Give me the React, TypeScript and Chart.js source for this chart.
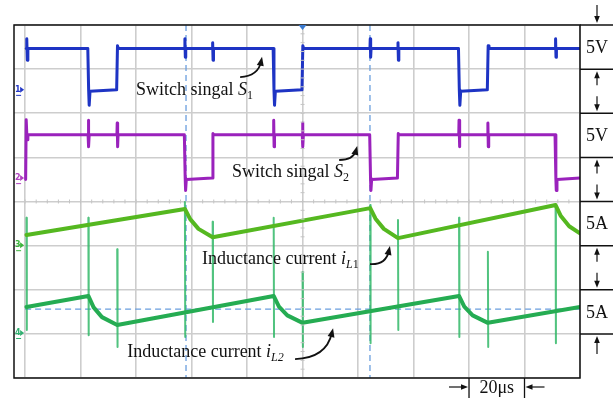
import React, { useEffect, useRef } from "react";
import { Chart, registerables } from "chart.js";
Chart.register(...registerables);

// time axis in μs (20 μs / division), vertical axis in divisions from the top
const xTicks = [0, 20, 40, 60, 80, 100, 120, 140, 160, 180, 200];
const yTicks = [0, 1, 2, 3, 4, 5, 6, 7, 8];

// Switch signal S1 (blue)
const s1T = [0.4, 0.6, 0.8, 1.0, 22.6, 22.9, 23.1, 23.4, 33.0, 33.3, 33.6, 57.5, 57.6, 57.75, 57.9, 67.5, 67.6, 67.75, 67.9, 89.4, 89.7, 89.9, 90.2, 99.8, 100.1, 100.4, 124.3, 124.4, 124.55, 124.7, 134.3, 134.4, 134.55, 134.7, 156.2, 156.5, 156.7, 157.0, 166.6, 166.9, 167.2, 191.1, 191.2, 191.35, 191.5, 200];
const s1Y = [0.53, 0.31, 0.80, 0.53, 0.53, 1.47, 1.82, 1.50, 1.47, 0.47, 0.53, 0.53, 0.31, 0.73, 0.53, 0.53, 0.40, 0.80, 0.53, 0.53, 1.47, 1.82, 1.50, 1.47, 0.47, 0.53, 0.53, 0.31, 0.73, 0.53, 0.53, 0.40, 0.80, 0.53, 0.53, 1.47, 1.82, 1.50, 1.47, 0.47, 0.53, 0.53, 0.31, 0.73, 0.53, 0.53];

// Switch signal S2 (purple)
const s2T = [0.2, 0.4, 0.7, 1.0, 22.7, 22.8, 22.95, 23.1, 33.1, 33.2, 33.35, 33.5, 57.4, 57.7, 57.85, 58.1, 67.4, 67.7, 68.0, 89.5, 89.6, 89.75, 89.9, 99.9, 100.0, 100.15, 100.3, 124.2, 124.5, 124.65, 124.9, 134.2, 134.5, 134.8, 156.3, 156.4, 156.55, 156.7, 166.7, 166.8, 166.95, 167.1, 191.0, 191.3, 191.45, 191.7, 200];
const s2Y = [3.50, 2.15, 2.60, 2.49, 2.49, 2.16, 2.76, 2.49, 2.49, 2.22, 2.76, 2.49, 2.49, 3.47, 3.75, 3.50, 3.47, 2.46, 2.49, 2.49, 2.16, 2.76, 2.49, 2.49, 2.22, 2.76, 2.49, 2.49, 3.47, 3.75, 3.50, 3.47, 2.46, 2.49, 2.49, 2.16, 2.76, 2.49, 2.49, 2.22, 2.76, 2.49, 2.49, 3.47, 3.75, 3.50, 3.47];

// Inductance current iL1 (bright green)
const iL1T = [0.5, 57.6, 59.5, 62.5, 67.6, 124.4, 126.3, 129.3, 134.4, 191.2, 193.1, 196.1, 200];
const iL1Y = [4.76, 4.17, 4.40, 4.62, 4.81, 4.15, 4.39, 4.62, 4.83, 4.08, 4.33, 4.56, 4.72];

// Inductance current iL2 (green)
const iL2T = [0.5, 22.8, 24.7, 27.7, 33.2, 89.6, 91.5, 94.5, 100.0, 156.4, 158.3, 161.3, 166.8, 200];
const iL2Y = [6.39, 6.14, 6.40, 6.62, 6.80, 6.14, 6.38, 6.58, 6.75, 6.14, 6.38, 6.58, 6.75, 6.39];

// switching spikes on the current channel
const spikeT = [0.5, 22.8, 33.2, 57.6, 67.6, 89.6, 100.0, 124.4, 134.4, 156.4, 166.8, 191.2];
const spikeTop = [4.37, 4.37, 5.08, 4.01, 4.46, 4.37, 5.60, 4.08, 4.42, 4.37, 5.14, 4.08];
const spikeBottom = [6.91, 7.03, 7.30, 7.07, 6.73, 7.07, 7.30, 7.21, 6.91, 7.07, 7.30, 7.21];

// cursors
const cursorT = [58.0, 124.3];
const cursorLevel = 6.44;

// channel ground markers
const chanLabels = ["1", "2", "3", "4"];
const chanLevels = [1.47, 3.47, 4.99, 6.98];
const chanColors = ["#2438c8", "#b040c0", "#3cb43c", "#30b070"];
const triggerT = 100;

// right side scale boxes
const sideLabels = ["5V", "5V", "5A", "5A"];
const sideLevels = [0.5, 2.5, 4.5, 6.5];
const sideLines = [0, 1, 2, 3, 4, 5, 6, 7];
const timeScaleLabel = "20μs";
const timeScaleFrom = 160;
const timeScaleTo = 180;

// annotations: text at (x, baseline y), arrow tail/control/tip, in data units
const notes = [
  { parts: [["Switch singal ", 0, 0], ["S", 1, 0], ["1", 0, 1]], x: 40.0, y: 1.59, arrow: [[77.5, 1.18], [84.0, 1.16], [85.4, 0.72]] },
  { parts: [["Switch singal ", 0, 0], ["S", 1, 0], ["2", 0, 1]], x: 74.6, y: 3.45, arrow: [[113.2, 3.06], [118.3, 3.06], [119.7, 2.74]] },
  { parts: [["Inductance current ", 0, 0], ["i", 1, 0], ["L", 1, 1], ["1", 0, 1]], x: 63.8, y: 5.42, arrow: [[124.3, 5.42], [130.0, 5.44], [131.5, 5.01]] },
  { parts: [["Inductance current ", 0, 0], ["i", 1, 0], ["L2", 1, 1]], x: 36.8, y: 7.52, arrow: [[97.3, 7.57], [108.5, 7.55], [111.0, 6.87]] },
];

const FONT = '"Liberation Serif", "Times New Roman", serif';

function pts(t: number[], y: number[]) {
  return t.map((v, i) => ({ x: v, y: y[i] }));
}

function arrowHead(ctx: CanvasRenderingContext2D, fx: number, fy: number, tx: number, ty: number, len = 7, half = 3) {
  const a = Math.atan2(ty - fy, tx - fx);
  ctx.beginPath();
  ctx.moveTo(tx, ty);
  ctx.lineTo(tx - len * Math.cos(a) + half * Math.sin(a), ty - len * Math.sin(a) - half * Math.cos(a));
  ctx.lineTo(tx - len * Math.cos(a) - half * Math.sin(a), ty - len * Math.sin(a) + half * Math.cos(a));
  ctx.closePath();
  ctx.fill();
}

function straightArrow(ctx: CanvasRenderingContext2D, fx: number, fy: number, tx: number, ty: number) {
  const a = Math.atan2(ty - fy, tx - fx);
  ctx.beginPath();
  ctx.moveTo(fx, fy);
  ctx.lineTo(tx - 5 * Math.cos(a), ty - 5 * Math.sin(a));
  ctx.stroke();
  arrowHead(ctx, fx, fy, tx, ty, 7, 2.8);
}

const overlay = {
  id: "overlay",
  afterDatasetsDraw(chart: any) {
    const ctx: CanvasRenderingContext2D = chart.ctx;
    const { left, right, top, bottom } = chart.chartArea;
    const xs = chart.scales.x;
    const ys = chart.scales.y;
    const W = chart.width;
    const H = chart.height;
    ctx.save();

    // minor ticks on the centre axes
    ctx.strokeStyle = "#c4c4c4";
    ctx.lineWidth = 1;
    const cy = ys.getPixelForValue(4);
    const cx = xs.getPixelForValue(100);
    for (let i = 0; i <= 50; i++) {
      const px = xs.getPixelForValue(i * 4);
      ctx.beginPath();
      ctx.moveTo(px, cy - 2);
      ctx.lineTo(px, cy + 2);
      ctx.stroke();
    }
    for (let i = 0; i <= 40; i++) {
      const py = ys.getPixelForValue(i * 0.2);
      ctx.beginPath();
      ctx.moveTo(cx - 2, py);
      ctx.lineTo(cx + 2, py);
      ctx.stroke();
    }

    // frame
    ctx.strokeStyle = "#111";
    ctx.lineWidth = 1.5;
    ctx.strokeRect(left, top, right - left, bottom - top);

    // trigger marker
    const tx = xs.getPixelForValue(triggerT);
    ctx.fillStyle = "#3a7ad0";
    ctx.beginPath();
    ctx.moveTo(tx - 4, top);
    ctx.lineTo(tx + 4, top);
    ctx.lineTo(tx, top + 5);
    ctx.closePath();
    ctx.fill();

    // channel markers
    chanLabels.forEach((lab, i) => {
      const py = ys.getPixelForValue(chanLevels[i]);
      const bx = xs.getPixelForValue(0) - 10;
      ctx.fillStyle = chanColors[i];
      ctx.font = "bold 8px 'DejaVu Sans'";
      ctx.textAlign = "left";
      ctx.textBaseline = "middle";
      ctx.fillText(lab, bx, py);
      ctx.beginPath();
      ctx.moveTo(bx + 5, py - 3);
      ctx.lineTo(bx + 9, py);
      ctx.lineTo(bx + 5, py + 3);
      ctx.closePath();
      ctx.fill();
      ctx.fillRect(bx + 1, py + 5, 5, 1);
    });

    // right scale boxes
    ctx.strokeStyle = "#111";
    ctx.fillStyle = "#111";
    ctx.lineWidth = 1.5;
    sideLines.forEach((d) => {
      const py = ys.getPixelForValue(d);
      ctx.beginPath();
      ctx.moveTo(right, py);
      ctx.lineTo(W, py);
      ctx.stroke();
    });
    const ax = (right + W) / 2 + 0.5;
    ctx.font = `18px ${FONT}`;
    ctx.textAlign = "center";
    ctx.textBaseline = "middle";
    sideLabels.forEach((lab, i) => {
      ctx.fillText(lab, ax, ys.getPixelForValue(sideLevels[i]) + 1);
    });
    ctx.lineWidth = 1.2;
    straightArrow(ctx, ax, 5, ax, ys.getPixelForValue(0) - 2);
    [1, 3, 5].forEach((k) => {
      const a = ys.getPixelForValue(k);
      const b = ys.getPixelForValue(k + 1);
      straightArrow(ctx, ax, a + 16, ax, a + 2);
      straightArrow(ctx, ax, b - 17, ax, b - 2);
    });
    const y7 = ys.getPixelForValue(7);
    straightArrow(ctx, ax, y7 + 20, ax, y7 + 2);

    // time scale
    const x1 = xs.getPixelForValue(timeScaleFrom);
    const x2 = xs.getPixelForValue(timeScaleTo);
    ctx.lineWidth = 1.3;
    ctx.beginPath();
    ctx.moveTo(x1, bottom);
    ctx.lineTo(x1, H);
    ctx.moveTo(x2, bottom);
    ctx.lineTo(x2, H);
    ctx.stroke();
    const by = bottom + 9;
    ctx.lineWidth = 1.2;
    straightArrow(ctx, x1 - 20, by, x1 - 1, by);
    straightArrow(ctx, x2 + 20, by, x2 + 1, by);
    ctx.font = `18px ${FONT}`;
    ctx.fillText(timeScaleLabel, (x1 + x2) / 2, by + 1);

    // annotations
    ctx.textAlign = "left";
    ctx.textBaseline = "alphabetic";
    notes.forEach((n) => {
      let px = xs.getPixelForValue(n.x);
      const py = ys.getPixelForValue(n.y);
      n.parts.forEach((p: any) => {
        const [text, italic, sub] = p;
        const size = sub ? 12 : 18;
        ctx.font = `${italic ? "italic " : ""}${size}px ${FONT}`;
        ctx.fillText(text, px, py + (sub ? 4 : 0));
        px += ctx.measureText(text).width;
      });
      const [a, c, b] = n.arrow;
      const ax0 = xs.getPixelForValue(a[0]), ay0 = ys.getPixelForValue(a[1]);
      const cx0 = xs.getPixelForValue(c[0]), cy0 = ys.getPixelForValue(c[1]);
      const bx0 = xs.getPixelForValue(b[0]), by0 = ys.getPixelForValue(b[1]);
      const ang = Math.atan2(by0 - cy0, bx0 - cx0);
      ctx.strokeStyle = "#111";
      ctx.lineWidth = 1.8;
      ctx.beginPath();
      ctx.moveTo(ax0, ay0);
      ctx.quadraticCurveTo(cx0, cy0, bx0 - 5 * Math.cos(ang), by0 - 5 * Math.sin(ang));
      ctx.stroke();
      ctx.fillStyle = "#111";
      arrowHead(ctx, cx0, cy0, bx0, by0, 9, 3.5);
    });

    ctx.restore();
  },
};

export default function App() {
  const ref = useRef<HTMLCanvasElement>(null);
  useEffect(() => {
    if (!ref.current) return;
    const spikePts: any[] = [];
    spikeT.forEach((t, i) => {
      spikePts.push({ x: t, y: spikeTop[i] });
      spikePts.push({ x: t + 0.12, y: spikeBottom[i] });
      spikePts.push({ x: t + 0.13, y: null });
    });
    const cursorPts: any[] = [];
    cursorT.forEach((t) => {
      cursorPts.push({ x: t, y: 0 });
      cursorPts.push({ x: t, y: 8 });
      cursorPts.push({ x: t, y: null });
    });
    cursorPts.push({ x: 0, y: cursorLevel });
    cursorPts.push({ x: 200, y: cursorLevel });

    const base = {
      showLine: true, pointRadius: 0, pointHoverRadius: 0, tension: 0, fill: false, spanGaps: false,
      borderJoinStyle: "round" as const, borderCapStyle: "round" as const,
    };
    const chart = new Chart(ref.current, {
      type: "scatter",
      data: {
        datasets: [
          { ...base, label: "S1", data: pts(s1T, s1Y), borderColor: "#1e34c4", borderWidth: 3, order: 1 },
          { ...base, label: "S2", data: pts(s2T, s2Y), borderColor: "#9a22bc", borderWidth: 3, order: 1 },
          { ...base, label: "iL1", data: pts(iL1T, iL1Y), borderColor: "#55b820", borderWidth: 4, order: 1 },
          { ...base, label: "iL2", data: pts(iL2T, iL2Y), borderColor: "#25ac52", borderWidth: 4, order: 1 },
          { ...base, label: "spikes", data: spikePts, borderColor: "rgba(50,185,105,0.85)", borderWidth: 2, order: 2 },
          { ...base, label: "cursors", data: cursorPts, borderColor: "#6a9ede", borderWidth: 1.3, borderDash: [6, 4], borderCapStyle: "butt" as const, order: 3 },
        ],
      },
      options: {
        animation: false,
        responsive: false,
        devicePixelRatio: 1,
        layout: { autoPadding: false, padding: { left: 14, right: 33, top: 25, bottom: 20 } },
        plugins: { legend: { display: false }, tooltip: { enabled: false } },
        events: [],
        scales: {
          x: {
            type: "linear",
            min: -4,
            max: 200,
            afterBuildTicks: (s: any) => { s.ticks = xTicks.map((v) => ({ value: v })); },
            ticks: { display: false },
            grid: { color: "#cdcdcd", lineWidth: 1.6, drawTicks: false },
            border: { display: false },
          },
          y: {
            type: "linear",
            reverse: true,
            min: 0,
            max: 8,
            afterBuildTicks: (s: any) => { s.ticks = yTicks.map((v) => ({ value: v })); },
            ticks: { display: false },
            grid: { color: "#cdcdcd", lineWidth: 1.6, drawTicks: false },
            border: { display: false },
          },
        },
      },
      plugins: [overlay],
    });
    return () => chart.destroy();
  }, []);
  return (
    <div style={{ position: "absolute", left: 0, top: 0, width: 613, height: 398, background: "#fff" }}>
      <canvas ref={ref} width={613} height={398} />
    </div>
  );
}
